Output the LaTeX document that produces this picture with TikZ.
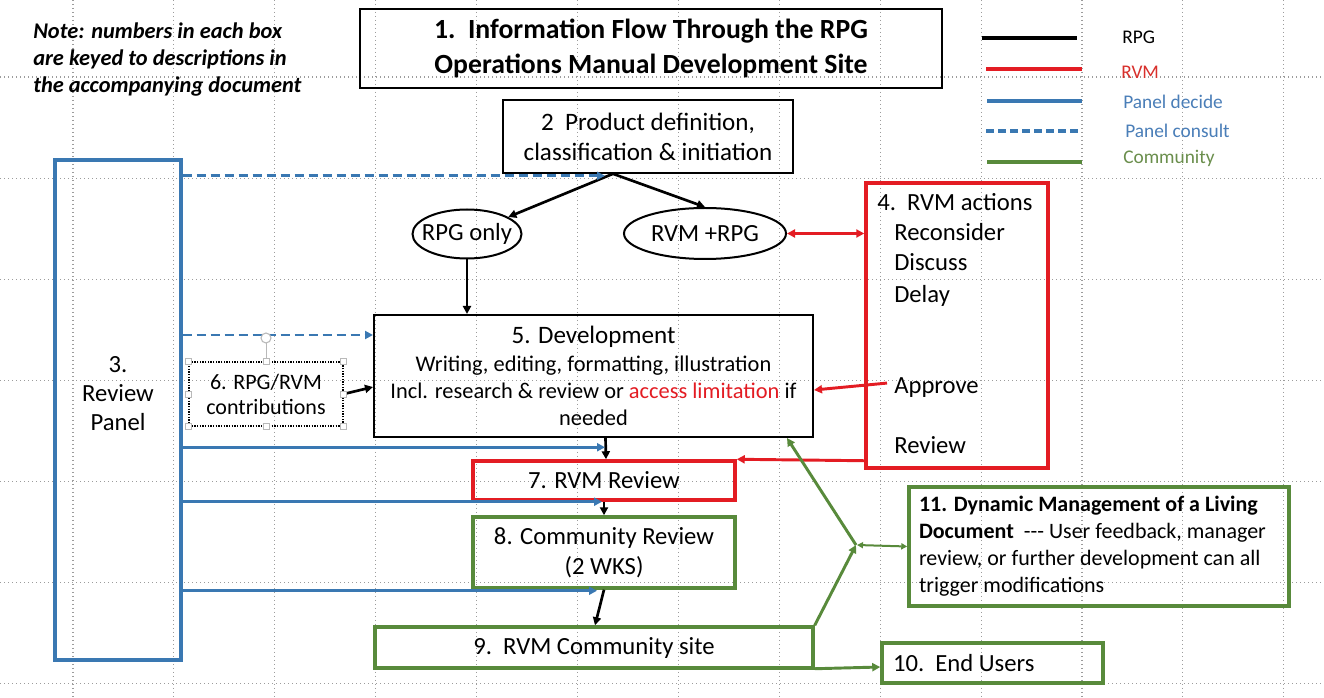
\documentclass[tikz,border=0pt]{standalone}
\usepackage{fontspec}
\setmainfont{Carlito}
\usetikzlibrary{arrows.meta,shapes.geometric,calc}
\definecolor{rvmred}{HTML}{E31C23}
\definecolor{panelblue}{HTML}{3A78B2}
\definecolor{comgreen}{HTML}{588A3B}
\definecolor{legred}{HTML}{D8302C}
\definecolor{legblue}{HTML}{4A7EB8}
\definecolor{leggreen}{HTML}{6A8E4C}
\definecolor{gridgray}{HTML}{9C9C9C}
\newcommand{\fsz}[2]{\fontsize{#1}{#2}\selectfont}
\begin{document}
\begin{tikzpicture}[x=0.75pt,y=-0.75pt,
  font=\fsz{18.5}{22},
  gridline/.style={draw=gridgray, line width=0.8pt, dash pattern=on 0.8pt off 2.2pt},
  tip/.style={-{Triangle[length=6pt,width=6pt]}},
  bothtips/.style={{Triangle[length=6pt,width=6pt]}-{Triangle[length=6pt,width=6pt]}},
  smalltips/.style={{Triangle[length=4.5pt,width=4.5pt]}-{Triangle[length=4.5pt,width=4.5pt]}},
  rpgline/.style={draw=black, line width=2pt},
  rvmline/.style={draw=rvmred, line width=2.2pt},
  decide/.style={draw=panelblue, line width=2.2pt},
  consult/.style={draw=panelblue, line width=2.2pt, dash pattern=on 7pt off 3.5pt},
  comline/.style={draw=comgreen, line width=2.2pt},
  basebox/.style={inner sep=0pt, align=center},
  rpgbox/.style={basebox, draw=black, line width=1.2pt},
  rvmbox/.style={basebox, draw=rvmred, line width=2.6pt},
  combox/.style={basebox, draw=comgreen, line width=2.6pt},
  panelbox/.style={basebox, draw=panelblue, line width=2.6pt},
  oval/.style={draw=black, ellipse, line width=1.5pt, inner sep=0pt},
  handle/.style={draw=gray!55, fill=white, line width=0.6pt, minimum size=4.5pt, inner sep=0pt},
  legtext/.style={anchor=base west, inner sep=0pt, font=\fsz{14.5}{17}},
  actext/.style={anchor=base west, inner sep=0pt}
]
\useasboundingbox (0,0) rectangle (1324,698);
\fill[white] (0,0) rectangle (1324,698);

% background grid
\foreach \i in {0,...,12} \draw[gridline] ({73+100.9*\i},0) -- ({73+100.9*\i},698);
\foreach \j in {0,...,6} \draw[gridline] (0,{77+101.1*\j}) -- (1324,{77+101.1*\j});

% note
\node[anchor=north west, align=flush left, inner sep=0pt, font=\bfseries\itshape\fsz{16.8}{19.9}] (note) at (33,23)
  {Note: numbers in each box\\are keyed to descriptions in\\the accompanying document};

% title
\node[rpgbox, line width=1.1pt, minimum width=436.5pt, minimum height=59.25pt, font=\bfseries\fsz{20.8}{26.2}] (title) at (651,48.5)
  {1.\ \ Information Flow Through the RPG\\Operations Manual Development Site};

% legend
\draw[line width=2.3pt, black] (982,38) -- (1077,38);
\draw[line width=2.3pt, rvmred] (986,69) -- (1082,69);
\draw[line width=2.3pt, panelblue] (987,101) -- (1082,101);
\draw[line width=2.3pt, panelblue, dash pattern=on 6pt off 3pt] (986,131) -- (1080,131);
\draw[line width=2.3pt, comgreen] (987,162) -- (1082,162);
\node[legtext] (lrpg) at (1122,44) {RPG};
\node[legtext, text=legred] (lrvm) at (1121,79) {RVM};
\node[legtext, text=legblue] (ldec) at (1123,109) {Panel decide};
\node[legtext, text=legblue] (lcon) at (1125,138) {Panel consult};
\node[legtext, text=leggreen] (lcom) at (1123,164) {Community};

% box 2
\node[rpgbox, minimum width=217.5pt, minimum height=54.75pt, font=\fsz{18.8}{22.5}] (b2) at (648,136.5)
  {2\ \ Product definition,\\classification \& initiation};

% review panel
\node[panelbox, minimum width=94.5pt, minimum height=375pt] (panel) at (118,410) {};
\node[basebox, font=\fsz{18.5}{21.75}] (paneltxt) at (118,394) {3.\\Review\\Panel};

% ellipses
\node[oval, minimum width=81.75pt, minimum height=36.75pt, label={center:RPG only}] (rpg) at (467,234) {};
\node[oval, minimum width=121.5pt, minimum height=38.25pt, label={center:RVM +RPG}] (rvm) at (705,233.5) {};

% box 4
\node[rvmbox, minimum width=136.5pt, minimum height=213.75pt] (b4) at (957,325.5) {};
\node[actext] (a4) at (877,211) {4.\ \ RVM actions};
\node[actext] (arec) at (894,241) {Reconsider};
\node[actext] (adis) at (894,271) {Discuss};
\node[actext] (adel) at (894,303) {Delay};
\node[actext] (aapp) at (894,393) {Approve};
\node[actext] (arev) at (894,453) {Review};

% box 5
\node[rpgbox, line width=1.5pt, minimum width=329.25pt, minimum height=91.5pt, font=\fsz{16.8}{20.2}] (b5) at (593.5,376)
  {{\fsz{18.8}{22}5. Development}\\[1pt]
   Writing, editing, formatting, illustration\\
   Incl. research \& review or \textcolor{rvmred}{access limitation} if\\
   needed};

% box 6 (selected, dotted)
\node[basebox, draw=black, line width=1.1pt, dash pattern=on 1pt off 1pt, minimum width=115.5pt, minimum height=48pt, font=\fsz{16.5}{18.75}] (b6) at (266,394)
  {6. RPG/RVM\\contributions};

% box 7
\node[rvmbox, minimum width=196.5pt, minimum height=29.25pt] (b7) at (604,480.5) {7. RVM Review};
% box 8
\node[combox, minimum width=196.5pt, minimum height=53.25pt, font=\fsz{18.5}{22.5}] (b8) at (604,552.5) {8. Community Review\\(2 WKS)};
% box 9
\node[combox, minimum width=328.5pt, minimum height=30.75pt] (b9) at (594,647.5) {9.\ \ RVM Community site};
% box 10
\node[combox, minimum width=165.75pt, minimum height=30pt, text width=149.25pt, inner xsep=8.25pt, align=flush left] (b10) at (992.5,663) {10.\ \ End Users};
% box 11
\node[combox, minimum width=285pt, minimum height=89.25pt, text width=270pt, inner xsep=7.5pt, align=flush left, font=\fsz{16.5}{20.25}] (b11) at (1099,546.5)
  {\textbf{11. Dynamic Management of a Living}\\\textbf{Document}\ \ -{}-{}- User feedback, manager\\review, or further development can all\\trigger modifications};

\coordinate (split) at ($(b2.south)+(-35,0)$);
\coordinate (jn) at (856,545);

% black (RPG) connectors
\draw[rpgline, tip] (split) -- (rpg);
\draw[rpgline, tip] (split) -- (rvm.north);
\draw[rpgline, tip] (rpg.south) -- (rpg.south |- b5.north);
\draw[rpgline, tip] (b6.east) -- ($(b5.west)+(0,11)$);
\draw[rpgline, tip] ($(b5.south)+(12,0)$) -- ($(b7.north)+(2,0)$);
\draw[rpgline, tip] (b7.south) -- (b8.north);
\draw[rpgline, tip] (b8.south) -- ($(b9.north)+(1,0)$);

% red (RVM) connectors
\draw[rvmline, bothtips] (rvm.east) -- (b4.west |- rvm.east);
\draw[rvmline, tip] ($(aapp.west)+(-7,-4)$) -- ($(b5.east)+(0,14)$);
\draw[rvmline, tip] ($(b4.south west)+(0,-9)$) -- (b7.north east);

% blue (panel) connectors
\coordinate (e1) at ($(split)+(-8,2)$);
\coordinate (e2) at ($(b5.north west)+(0,21)$);
\coordinate (e3) at ($(b7.north)+(1,-12)$);
\coordinate (e4) at ($(b7.south)+(-2,0)$);
\coordinate (e5) at ($(b8.south)+(-7,1)$);
\draw[consult, tip] (panel.east |- e1) -- (e1);
\draw[consult, tip] (panel.east |- e2) -- (e2);
\draw[decide, tip] (panel.east |- e3) -- (e3);
\draw[decide, tip] (panel.east |- e4) -- (e4);
\draw[decide, tip] (panel.east |- e5) -- (e5);

% green (community) connectors
\draw[comline, tip] ($(b9.south east)+(0,-1)$) -- ($(b10.west)+(0,4)$);
\draw[comline, tip] (b9.north east) -- (jn);
\draw[comline, tip] (jn) -- ($(b5.south east)+(-27,0)$);
\draw[comgreen, line width=1.5pt, smalltips] ($(jn)+(1,0)$) -- (b11.west);

% selection handles of box 6
\draw[gray!55, line width=0.6pt] (b6.north) -- ++(0,-19);
\draw[gray!55, fill=white, line width=0.8pt] (266,338) circle (5);
\foreach \a in {north west,north,north east,east,south east,south,south west,west}
  \node[handle] at (b6.\a) {};
\end{tikzpicture}
\end{document}
